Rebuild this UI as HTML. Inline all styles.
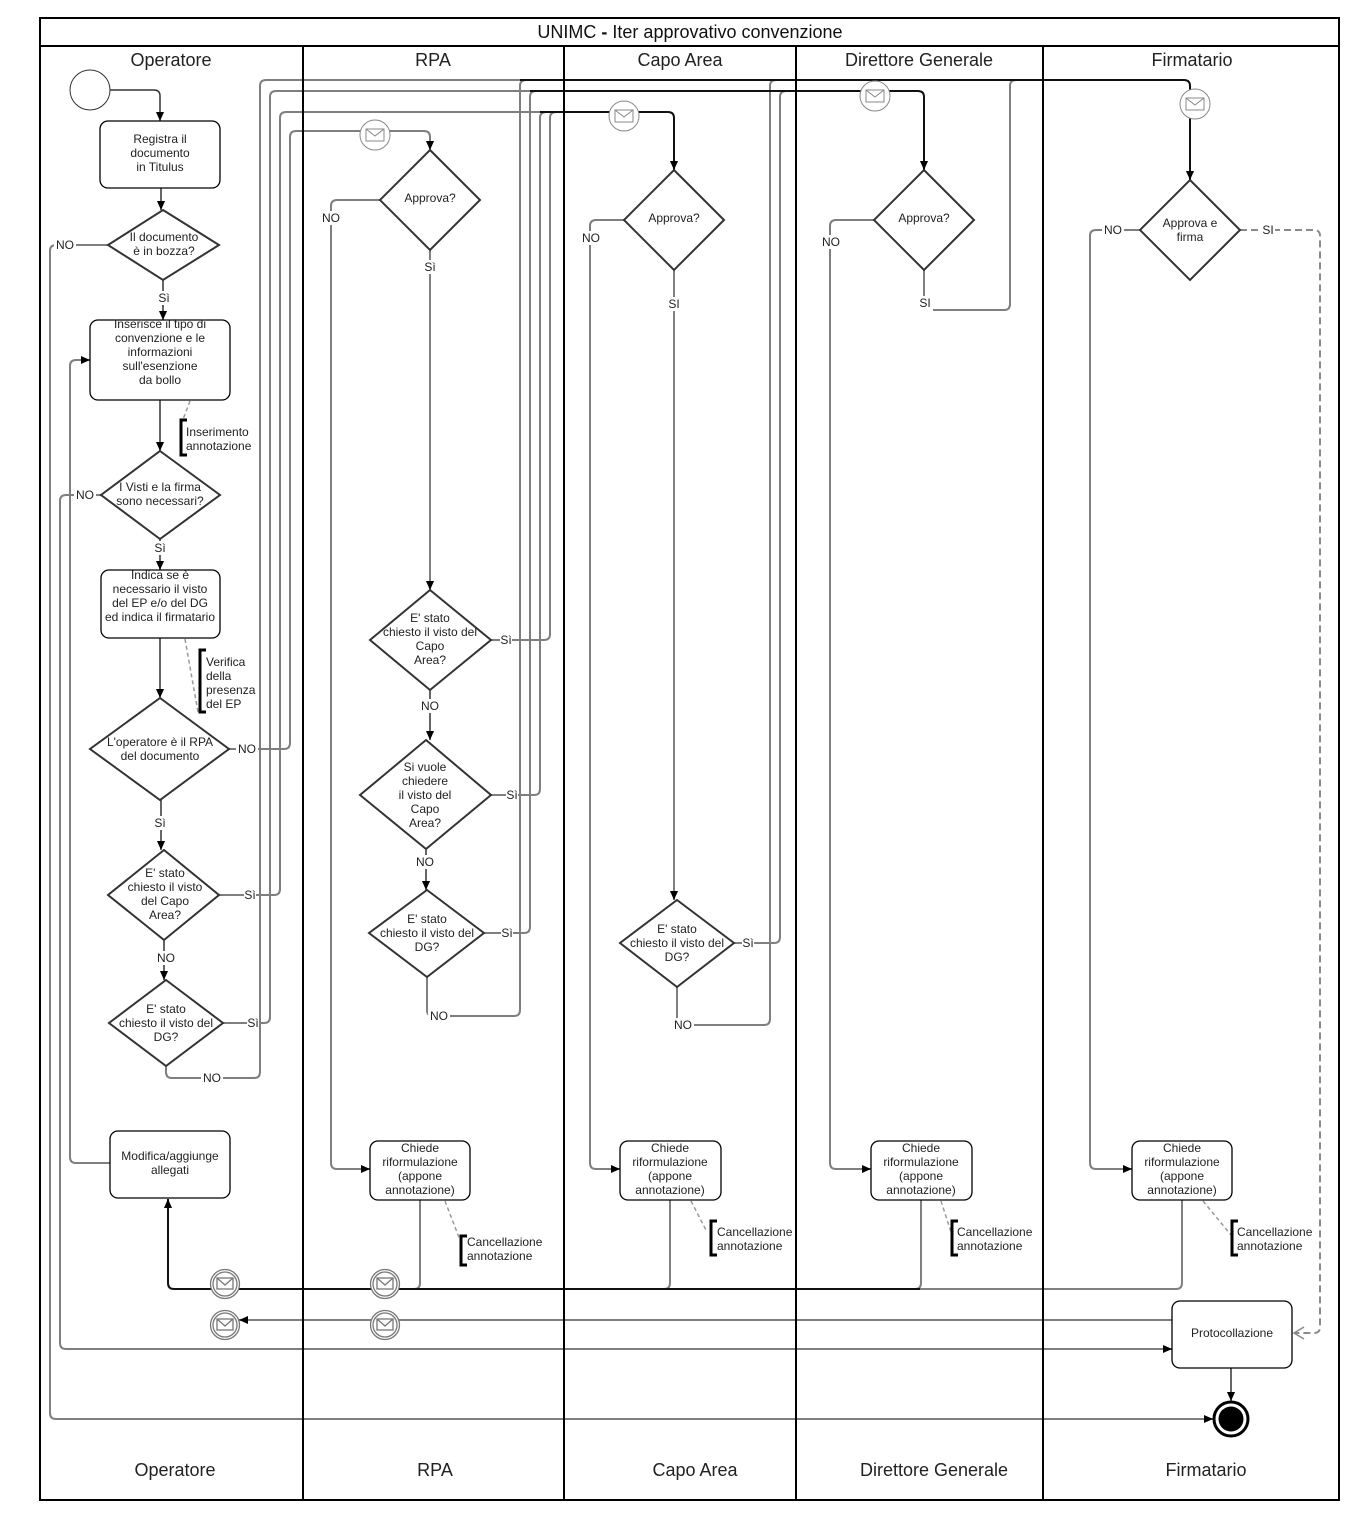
<!DOCTYPE html>
<html><head><meta charset="utf-8"><style>
html,body{margin:0;padding:0;background:#fff;}
svg{display:block;}
text{font-family:"Liberation Sans",Arial,sans-serif;}
</style></head><body>
<svg width="1362" height="1520" viewBox="0 0 1362 1520" xmlns="http://www.w3.org/2000/svg">
<defs>
<marker id="a" viewBox="0 0 10 10" refX="10" refY="5" markerWidth="9" markerHeight="9" markerUnits="userSpaceOnUse" orient="auto"><path d="M0,0.5 L10,5 L0,9.5 z" fill="#000"/></marker>
</defs>
<rect width="1362" height="1520" fill="#fff"/>

<!-- Gray connectors -->
<g fill="none" stroke="#7f7f7f" stroke-width="2">
<path d="M108,245 H56 Q50,245 50,251 V1413 Q50,1419 56,1419 H1213" marker-end="url(#a)"/>
<path d="M101,495 H66 Q60,495 60,501 V1343 Q60,1349 66,1349 H1172" marker-end="url(#a)"/>
<path d="M110,1163 H76 Q70,1163 70,1157 V366 Q70,360 76,360 H90" marker-end="url(#a)"/>
<path d="M229,749 H284 Q290,749 290,743 V137 Q290,131 296,131 H424 Q430,131 430,137 V150" marker-end="url(#a)"/>
<path d="M219,895 H274 Q280,895 280,889 V118 Q280,112 286,112 H560"/>
<path d="M223,1023 H264 Q270,1023 270,1017 V97 Q270,91 276,91 H560"/>
<path d="M166,1066 V1072 Q166,1078 172,1078 H254 Q260,1078 260,1072 V86 Q260,80 266,80 H560"/>
<path d="M380,200 H337 Q331,200 331,206 V1163 Q331,1169 337,1169 H370" marker-end="url(#a)"/>
<path d="M430,250 V590" marker-end="url(#a)"/>
<path d="M491,640 H544 Q550,640 550,634 V118 Q550,112 556,112 H560"/>
<path d="M491,795 H534 Q540,795 540,789 V118 Q540,112 546,112 H560"/>
<path d="M484,933 H524 Q530,933 530,927 V97 Q530,91 536,91 H560"/>
<path d="M427,977 V1010 Q427,1016 433,1016 H514 Q520,1016 520,1010 V86 Q520,80 526,80 H560"/>
<path d="M624,220 H596 Q590,220 590,226 V1163 Q590,1169 596,1169 H620" marker-end="url(#a)"/>
<path d="M674,270 V900" marker-end="url(#a)"/>
<path d="M734,943 H774 Q780,943 780,937 V97 Q780,91 786,91 H800"/>
<path d="M677,987 V1019 Q677,1025 683,1025 H764 Q770,1025 770,1019 V86 Q770,80 776,80 H800"/>
<path d="M874,220 H836 Q830,220 830,226 V1163 Q830,1169 836,1169 H871" marker-end="url(#a)"/>
<path d="M924,270 V310 H1004 Q1010,310 1010,304 V86 Q1010,80 1016,80 H1050"/>
<path d="M1140,230 H1096 Q1090,230 1090,236 V1163 Q1090,1169 1096,1169 H1132" marker-end="url(#a)"/>
<path d="M420,1200 V1283 Q420,1289 414,1289 H300"/>
<path d="M670,1200 V1283 Q670,1289 664,1289 H600"/>
<path d="M921,1200 V1283 Q921,1289 915,1289 H850"/>
<path d="M1182,1200 V1283 Q1182,1289 1176,1289 H900"/>
<path d="M1172,1320 H239" marker-end="url(#a)"/>
</g>
<path d="M1240,230 H1314 Q1320,230 1320,236 V1327 Q1320,1333 1314,1333 H1294" fill="none" stroke="#8a8a8a" stroke-width="2" stroke-dasharray="7,4"/>
<polyline points="1304,1327 1294,1333 1304,1339" fill="none" stroke="#8a8a8a" stroke-width="1.5"/>

<!-- Dark connectors -->
<g fill="none" stroke="#111" stroke-width="2">
<path d="M520,80 H1184 Q1190,80 1190,86 V180" marker-end="url(#a)"/>
<path d="M530,91 H918 Q924,91 924,97 V170" marker-end="url(#a)"/>
<path d="M540,112 H668 Q674,112 674,118 V170" marker-end="url(#a)"/>
<path d="M920,1289 H174 Q168,1289 168,1283 V1199" marker-end="url(#a)"/>
</g>
<g fill="none" stroke="#333" stroke-width="1.5">
<path d="M110,90 H154 Q160,90 160,96 V121" marker-end="url(#a)"/>
<path d="M161,188 V210" marker-end="url(#a)"/>
<path d="M163,280 V320" marker-end="url(#a)"/>
<path d="M160,400 V451" marker-end="url(#a)"/>
<path d="M160,539 V570" marker-end="url(#a)"/>
<path d="M160,638 V698" marker-end="url(#a)"/>
<path d="M161,800 V850" marker-end="url(#a)"/>
<path d="M164,940 V980" marker-end="url(#a)"/>
<path d="M430,690 V740" marker-end="url(#a)"/>
<path d="M426,849 V890" marker-end="url(#a)"/>
<path d="M1231,1368 V1401" marker-end="url(#a)"/>
</g>

<!-- Dashed associations -->
<g fill="none" stroke="#999" stroke-width="1.5" stroke-dasharray="4,3">
<path d="M190,401 L182,422"/>
<path d="M185,639 L198,712"/>
<path d="M445,1201 L460,1240"/>
<path d="M691,1201 L707,1232"/>
<path d="M941,1201 L951,1232"/>
<path d="M1203,1201 L1231,1235"/>
</g>

<!-- Annotation brackets -->
<g fill="none" stroke="#000" stroke-width="3">
<path d="M187,420 H181 V455 H187"/>
<path d="M206,650 H200 V712 H206"/>
<path d="M467,1236 H461 V1265 H467"/>
<path d="M717,1221 H711 V1255 H717"/>
<path d="M958,1221 H952 V1255 H958"/>
<path d="M1238,1221 H1232 V1255 H1238"/>
</g>

<!-- Pool / lanes -->
<g fill="none" stroke="#000" stroke-width="2">
<rect x="40" y="18" width="1299" height="1482"/>
<line x1="40" y1="46" x2="1339" y2="46"/>
<line x1="303" y1="46" x2="303" y2="1500"/>
<line x1="564" y1="46" x2="564" y2="1500"/>
<line x1="796" y1="46" x2="796" y2="1500"/>
<line x1="1043" y1="46" x2="1043" y2="1500"/>
</g>

<!-- Start / End -->
<circle cx="90" cy="90" r="20" fill="#fff" stroke="#333" stroke-width="1"/>
<circle cx="1231" cy="1419" r="17" fill="#fff" stroke="#000" stroke-width="3"/>
<circle cx="1231" cy="1419" r="12.5" fill="#000"/>

<!-- Boxes -->
<g fill="#fff" stroke="#000" stroke-width="1.3">
<rect x="100" y="121" width="120" height="67" rx="8"/>
<rect x="90" y="320" width="140" height="80" rx="8"/>
<rect x="101" y="570" width="119" height="68" rx="8"/>
<rect x="110" y="1131" width="120" height="67" rx="8"/>
<rect x="370" y="1141" width="100" height="59" rx="8"/>
<rect x="620" y="1141" width="101" height="59" rx="8"/>
<rect x="871" y="1141" width="101" height="59" rx="8"/>
<rect x="1132" y="1141" width="100" height="59" rx="8"/>
<rect x="1172" y="1301" width="120" height="67" rx="8"/>
</g>

<!-- Diamonds -->
<g fill="#fff" stroke="#333" stroke-width="2">
<polygon points="163,210 219,245 163,280 108,245"/>
<polygon points="160,451 220,495 160,539 101,495"/>
<polygon points="160,698 229,749 160,800 90,749"/>
<polygon points="164,850 219,895 164,940 108,895"/>
<polygon points="166,980 223,1023 166,1066 109,1023"/>
<polygon points="430,150 480,200 430,250 380,200"/>
<polygon points="430,590 491,640 430,690 370,640"/>
<polygon points="426,740 491,795 426,849 360,795"/>
<polygon points="427,890 484,933 427,977 369,933"/>
<polygon points="674,170 724,220 674,270 624,220"/>
<polygon points="677,900 734,943 677,987 620,943"/>
<polygon points="924,170 974,220 924,270 874,220"/>
<polygon points="1190,180 1240,230 1190,280 1140,230"/>
</g>

<!-- Envelopes top -->
<g fill="#fff" stroke="#888" stroke-width="1">
<circle cx="375" cy="135" r="15"/><rect x="366" y="129" width="18" height="12"/><polyline points="366,129 375,136 384,129" fill="none"/>
<circle cx="624" cy="116" r="15"/><rect x="615" y="110" width="18" height="12"/><polyline points="615,110 624,117 633,110" fill="none"/>
<circle cx="875" cy="96" r="15"/><rect x="866" y="90" width="18" height="12"/><polyline points="866,90 875,97 884,90" fill="none"/>
<circle cx="1195" cy="104" r="15"/><rect x="1186" y="98" width="18" height="12"/><polyline points="1186,98 1195,105 1204,98" fill="none"/>
</g>
<!-- Envelopes bottom (double) -->
<g fill="#fff" stroke="#777" stroke-width="1.3">
<circle cx="225" cy="1284" r="14.5"/><circle cx="225" cy="1284" r="12" fill="none"/><rect x="217" y="1278" width="16" height="11" fill="none"/><polyline points="217,1278 225,1285 233,1278" fill="none"/>
<circle cx="385" cy="1284" r="14.5"/><circle cx="385" cy="1284" r="12" fill="none"/><rect x="377" y="1278" width="16" height="11" fill="none"/><polyline points="377,1278 385,1285 393,1278" fill="none"/>
<circle cx="225" cy="1325" r="14.5"/><circle cx="225" cy="1325" r="12" fill="none"/><rect x="217" y="1319" width="16" height="11" fill="none"/><polyline points="217,1319 225,1326 233,1319" fill="none"/>
<circle cx="385" cy="1325" r="14.5"/><circle cx="385" cy="1325" r="12" fill="none"/><rect x="377" y="1319" width="16" height="11" fill="none"/><polyline points="377,1319 385,1326 393,1319" fill="none"/>
</g>

<!-- Edge labels -->
<g fill="#fff">
<rect x="54" y="238" width="22" height="14"/>
<rect x="158" y="291" width="12" height="14"/>
<rect x="74" y="488" width="22" height="14"/>
<rect x="154" y="541" width="12" height="14"/>
<rect x="236" y="742" width="22" height="14"/>
<rect x="154" y="816" width="12" height="14"/>
<rect x="244" y="888" width="12" height="14"/>
<rect x="155" y="951" width="22" height="14"/>
<rect x="247" y="1016" width="12" height="14"/>
<rect x="201" y="1071" width="22" height="14"/>
<rect x="320" y="211" width="22" height="14"/>
<rect x="424" y="260" width="12" height="14"/>
<rect x="500" y="633" width="12" height="14"/>
<rect x="419" y="699" width="22" height="14"/>
<rect x="506" y="788" width="12" height="14"/>
<rect x="414" y="855" width="22" height="14"/>
<rect x="501" y="926" width="12" height="14"/>
<rect x="428" y="1009" width="22" height="14"/>
<rect x="580" y="231" width="22" height="14"/>
<rect x="668" y="297" width="12" height="14"/>
<rect x="742" y="936" width="12" height="14"/>
<rect x="672" y="1018" width="22" height="14"/>
<rect x="820" y="235" width="22" height="14"/>
<rect x="917" y="296" width="16" height="15"/>
<rect x="1102" y="223" width="22" height="14"/>
<rect x="1261" y="223" width="14" height="14"/>
</g>
<g font-size="12" fill="#222" text-anchor="middle">
<text x="65" y="249">NO</text>
<text x="164" y="302">Sì</text>
<text x="85" y="499">NO</text>
<text x="160" y="552">Sì</text>
<text x="247" y="753">NO</text>
<text x="160" y="827">Sì</text>
<text x="250" y="899">Sì</text>
<text x="166" y="962">NO</text>
<text x="253" y="1027">Sì</text>
<text x="212" y="1082">NO</text>
<text x="331" y="222">NO</text>
<text x="430" y="271">Sì</text>
<text x="506" y="644">Sì</text>
<text x="430" y="710">NO</text>
<text x="512" y="799">Sì</text>
<text x="425" y="866">NO</text>
<text x="507" y="937">Sì</text>
<text x="439" y="1020">NO</text>
<text x="591" y="242">NO</text>
<text x="674" y="308">SI</text>
<text x="748" y="947">Sì</text>
<text x="683" y="1029">NO</text>
<text x="831" y="246">NO</text>
<text x="925" y="307">SI</text>
<text x="1113" y="234">NO</text>
<text x="1268" y="234">SI</text>
</g>

<!-- Node texts -->
<g font-size="12" fill="#222" text-anchor="middle">
<text x="160" y="143">Registra il</text>
<text x="160" y="157">documento</text>
<text x="160" y="171">in Titulus</text>
<text x="160" y="328">Inserisce il tipo di</text>
<text x="160" y="342">convenzione e le</text>
<text x="160" y="356">informazioni</text>
<text x="160" y="370">sull'esenzione</text>
<text x="160" y="384">da bollo</text>
<text x="160" y="579">Indica se è</text>
<text x="160" y="593">necessario il visto</text>
<text x="160" y="607">del EP e/o del DG</text>
<text x="160" y="621">ed indica il firmatario</text>
<text x="164" y="241">Il documento</text>
<text x="164" y="255">è in bozza?</text>
<text x="160" y="491">I Visti e la firma</text>
<text x="160" y="505">sono necessari?</text>
<text x="160" y="746">L'operatore è il RPA</text>
<text x="160" y="760">del documento</text>
<text x="165" y="877">E' stato</text>
<text x="165" y="891">chiesto il visto</text>
<text x="165" y="905">del Capo</text>
<text x="165" y="919">Area?</text>
<text x="166" y="1013">E' stato</text>
<text x="166" y="1027">chiesto il visto del</text>
<text x="166" y="1041">DG?</text>
<text x="170" y="1160">Modifica/aggiunge</text>
<text x="170" y="1174">allegati</text>
<text x="430" y="202">Approva?</text>
<text x="430" y="622">E' stato</text>
<text x="430" y="636">chiesto il visto del</text>
<text x="430" y="650">Capo</text>
<text x="430" y="664">Area?</text>
<text x="425" y="771">Si vuole</text>
<text x="425" y="785">chiedere</text>
<text x="425" y="799">il visto del</text>
<text x="425" y="813">Capo</text>
<text x="425" y="827">Area?</text>
<text x="427" y="923">E' stato</text>
<text x="427" y="937">chiesto il visto del</text>
<text x="427" y="951">DG?</text>
<text x="674" y="222">Approva?</text>
<text x="677" y="933">E' stato</text>
<text x="677" y="947">chiesto il visto del</text>
<text x="677" y="961">DG?</text>
<text x="924" y="222">Approva?</text>
<text x="1190" y="227">Approva e</text>
<text x="1190" y="241">firma</text>
<text x="1232" y="1337">Protocollazione</text>
<text x="420" y="1152">Chiede</text><text x="420" y="1166">riformulazione</text><text x="420" y="1180">(appone</text><text x="420" y="1194">annotazione)</text>
<text x="670" y="1152">Chiede</text><text x="670" y="1166">riformulazione</text><text x="670" y="1180">(appone</text><text x="670" y="1194">annotazione)</text>
<text x="921" y="1152">Chiede</text><text x="921" y="1166">riformulazione</text><text x="921" y="1180">(appone</text><text x="921" y="1194">annotazione)</text>
<text x="1182" y="1152">Chiede</text><text x="1182" y="1166">riformulazione</text><text x="1182" y="1180">(appone</text><text x="1182" y="1194">annotazione)</text>
</g>
<g font-size="12" fill="#222">
<text x="186" y="436">Inserimento</text>
<text x="186" y="450">annotazione</text>
<text x="206" y="666">Verifica</text>
<text x="206" y="680">della</text>
<text x="206" y="694">presenza</text>
<text x="206" y="708">del EP</text>
<text x="467" y="1246">Cancellazione</text><text x="467" y="1260">annotazione</text>
<text x="717" y="1236">Cancellazione</text><text x="717" y="1250">annotazione</text>
<text x="957" y="1236">Cancellazione</text><text x="957" y="1250">annotazione</text>
<text x="1237" y="1236">Cancellazione</text><text x="1237" y="1250">annotazione</text>
</g>

<!-- Titles -->
<text x="690" y="38" font-size="18" fill="#111" text-anchor="middle">UNIMC <tspan font-weight="bold">-</tspan> Iter approvativo convenzione</text>
<g font-size="18" fill="#222" text-anchor="middle">
<text x="171" y="66">Operatore</text>
<text x="433" y="66">RPA</text>
<text x="680" y="66">Capo Area</text>
<text x="919" y="66">Direttore Generale</text>
<text x="1192" y="66">Firmatario</text>
<text x="175" y="1476">Operatore</text>
<text x="435" y="1476">RPA</text>
<text x="695" y="1476">Capo Area</text>
<text x="934" y="1476">Direttore Generale</text>
<text x="1206" y="1476">Firmatario</text>
</g>
</svg>
</body></html>
